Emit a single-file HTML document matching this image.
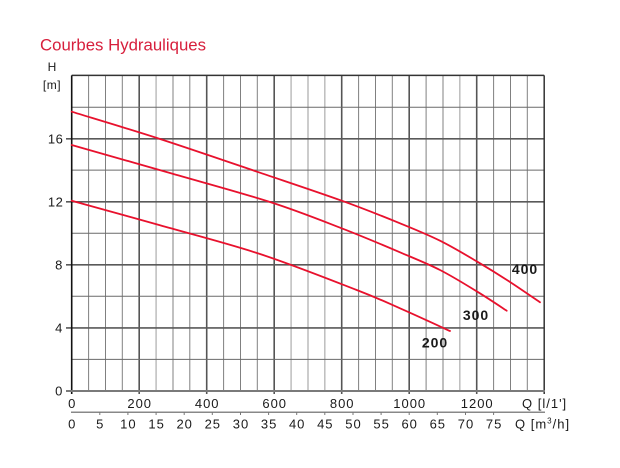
<!DOCTYPE html>
<html><head><meta charset="utf-8"><style>
html,body{margin:0;padding:0;background:#fff;}
svg{display:block;}
text{font-family:"Liberation Sans",Arial,sans-serif;}
</style></head><body>
<svg width="620" height="468" viewBox="0 0 620 468" xmlns="http://www.w3.org/2000/svg">
<rect width="620" height="468" fill="#fff"/>
<text x="40" y="50.5" font-size="17" fill="#d71f3c" textLength="166" lengthAdjust="spacingAndGlyphs">Courbes Hydrauliques</text>
<text x="52" y="71" font-size="12" fill="#1a1a1a" text-anchor="middle">H</text>
<text x="52" y="89" font-size="12" fill="#1a1a1a" text-anchor="middle" letter-spacing="0.5">[m]</text>

<!-- vertical grid -->
<g stroke="#808080" stroke-width="1">
<line x1="88.6" y1="75.4" x2="88.6" y2="391"/>
<line x1="105.5" y1="75.4" x2="105.5" y2="391"/>
<line x1="122.3" y1="75.4" x2="122.3" y2="391"/>
<line x1="173.0" y1="75.4" x2="173.0" y2="391"/>
<line x1="189.8" y1="75.4" x2="189.8" y2="391"/>
<line x1="223.6" y1="75.4" x2="223.6" y2="391"/>
<line x1="240.5" y1="75.4" x2="240.5" y2="391"/>
<line x1="257.3" y1="75.4" x2="257.3" y2="391"/>
<line x1="308.0" y1="75.4" x2="308.0" y2="391" stroke="#9a9a9a"/>
<line x1="358.6" y1="75.4" x2="358.6" y2="391"/>
<line x1="375.5" y1="75.4" x2="375.5" y2="391"/>
<line x1="392.3" y1="75.4" x2="392.3" y2="391"/>
<line x1="426.1" y1="75.4" x2="426.1" y2="391"/>
<line x1="443.0" y1="75.4" x2="443.0" y2="391"/>
<line x1="493.6" y1="75.4" x2="493.6" y2="391"/>
<line x1="510.5" y1="75.4" x2="510.5" y2="391"/>
<line x1="527.3" y1="75.4" x2="527.3" y2="391"/>
</g>
<g stroke="#bdbdbd" stroke-width="1.5">
<line x1="156.1" y1="75.4" x2="156.1" y2="391"/>
<line x1="291.1" y1="75.4" x2="291.1" y2="391"/>
<line x1="324.8" y1="75.4" x2="324.8" y2="391"/>
<line x1="459.8" y1="75.4" x2="459.8" y2="391"/>
</g>
<g stroke="#555" stroke-width="1.6">
<line x1="139.2" y1="75.4" x2="139.2" y2="394"/>
<line x1="206.7" y1="75.4" x2="206.7" y2="394"/>
<line x1="274.2" y1="75.4" x2="274.2" y2="394"/>
<line x1="341.7" y1="75.4" x2="341.7" y2="394"/>
<line x1="409.2" y1="75.4" x2="409.2" y2="394"/>
<line x1="476.7" y1="75.4" x2="476.7" y2="394"/>
</g>
<!-- horizontal grid -->
<g stroke="#6a6a6a" stroke-width="1">
<line x1="71.7" y1="359.4" x2="544.2" y2="359.4"/>
<line x1="71.7" y1="296.3" x2="544.2" y2="296.3"/>
<line x1="71.7" y1="233.2" x2="544.2" y2="233.2"/>
<line x1="71.7" y1="170.1" x2="544.2" y2="170.1"/>
<line x1="71.7" y1="107.2" x2="544.2" y2="107.2"/>
</g>
<g stroke="#5a5a5a" stroke-width="1.6">
<line x1="66" y1="327.9" x2="544.2" y2="327.9"/>
<line x1="66" y1="264.8" x2="544.2" y2="264.8"/>
<line x1="66" y1="201.8" x2="544.2" y2="201.8"/>
<line x1="66" y1="138.8" x2="544.2" y2="138.8"/>
</g>
<line x1="71.7" y1="75.4" x2="544.2" y2="75.4" stroke="#333" stroke-width="1.5"/>
<line x1="544.2" y1="75.4" x2="544.2" y2="394" stroke="#333" stroke-width="1.5"/>
<line x1="71.7" y1="75.4" x2="71.7" y2="394" stroke="#111" stroke-width="1.6"/>
<line x1="66" y1="391" x2="545" y2="391" stroke="#7a7a7a" stroke-width="2"/>

<!-- second axis -->
<line x1="71" y1="412.3" x2="545" y2="412.3" stroke="#888" stroke-width="1.5"/>
<g stroke="#777" stroke-width="1">
<line x1="99.8" y1="412" x2="99.8" y2="415"/>
<line x1="127.9" y1="412" x2="127.9" y2="415"/>
<line x1="156.1" y1="412" x2="156.1" y2="415"/>
<line x1="184.2" y1="412" x2="184.2" y2="415"/>
<line x1="212.3" y1="412" x2="212.3" y2="415"/>
<line x1="240.5" y1="412" x2="240.5" y2="415"/>
<line x1="268.6" y1="412" x2="268.6" y2="415"/>
<line x1="296.7" y1="412" x2="296.7" y2="415"/>
<line x1="324.8" y1="412" x2="324.8" y2="415"/>
<line x1="353.0" y1="412" x2="353.0" y2="415"/>
<line x1="381.1" y1="412" x2="381.1" y2="415"/>
<line x1="409.2" y1="412" x2="409.2" y2="415"/>
<line x1="437.3" y1="412" x2="437.3" y2="415"/>
<line x1="465.5" y1="412" x2="465.5" y2="415"/>
<line x1="493.6" y1="412" x2="493.6" y2="415"/>
</g>

<!-- curves -->
<g fill="none" stroke="#e8112d" stroke-width="1.8" stroke-linejoin="round" stroke-linecap="round">
<path d="M71.7,111.7 C86.4,116.3 128.6,128.8 160,139 C191.4,149.2 229.7,162.4 260,172.7 C290.3,183 318.4,192.3 341.7,200.7 C365,209.1 383.6,216.6 400,223.3 C416.4,230 427.1,234.3 440,240.7 C452.9,247.1 465.6,254.8 477.3,261.7 C489,268.6 499.55,275.2 510,282 C520.45,288.8 535,298.9 540,302.3"/>
<path d="M71.7,145 C88.1,149.7 137,163.5 170,173 C203.05,182.5 241.4,192.8 270,202 C298.6,211.2 320,219.9 341.7,228.3 C363.4,236.7 383.6,245.3 400,252.3 C416.4,259.3 427.1,263.4 440,270 C452.9,276.6 466.2,284.9 477.3,291.7 C488.4,298.5 501.8,307.5 506.7,310.7"/>
<path d="M71.7,200.7 C86.4,204.8 128.6,216.4 160,225.3 C191.4,234.2 227.2,243.2 260,254 C292.8,264.8 333.4,281 356.7,290 C380,299 384.45,301.5 400,308.3 C415.55,315.1 441.7,327.2 450,331"/>
</g>
<g font-size="14" font-weight="bold" fill="#1a1a1a" text-anchor="middle" letter-spacing="1">
<text x="525" y="274">400</text>
<text x="476" y="320">300</text>
<text x="435" y="347.5">200</text>
</g>

<!-- y labels -->
<g font-size="13" fill="#1a1a1a" text-anchor="end" letter-spacing="0.6">
<text x="63" y="395.5">0</text>
<text x="63" y="332.5">4</text>
<text x="63" y="269.5">8</text>
<text x="63.5" y="206.5">12</text>
<text x="63.5" y="143.5">16</text>
</g>
<!-- x labels row 1 -->
<g font-size="13" fill="#1a1a1a" text-anchor="middle" letter-spacing="1">
<text x="72.2" y="408">0</text>
<text x="139.7" y="408">200</text>
<text x="207.2" y="408">400</text>
<text x="274.7" y="408">600</text>
<text x="342.2" y="408">800</text>
<text x="409.7" y="408">1000</text>
<text x="477.2" y="408">1200</text>
</g>
<text x="522" y="408" font-size="13" fill="#1a1a1a" letter-spacing="1">Q [l/1']</text>
<!-- x labels row 2 -->
<g font-size="13" fill="#1a1a1a" text-anchor="middle" letter-spacing="1">
<text x="72.2" y="428.5">0</text>
<text x="100.3" y="428.5">5</text>
<text x="128.4" y="428.5">10</text>
<text x="156.6" y="428.5">15</text>
<text x="184.7" y="428.5">20</text>
<text x="212.8" y="428.5">25</text>
<text x="241" y="428.5">30</text>
<text x="269.1" y="428.5">35</text>
<text x="297.2" y="428.5">40</text>
<text x="325.3" y="428.5">45</text>
<text x="353.5" y="428.5">50</text>
<text x="381.6" y="428.5">55</text>
<text x="409.7" y="428.5">60</text>
<text x="437.8" y="428.5">65</text>
<text x="466" y="428.5">70</text>
<text x="494.1" y="428.5">75</text>
</g>
<text x="515" y="428.5" font-size="13" fill="#1a1a1a" letter-spacing="1">Q [m<tspan font-size="8" dy="-5">3</tspan><tspan dy="5">/h]</tspan></text>
</svg>
</body></html>
